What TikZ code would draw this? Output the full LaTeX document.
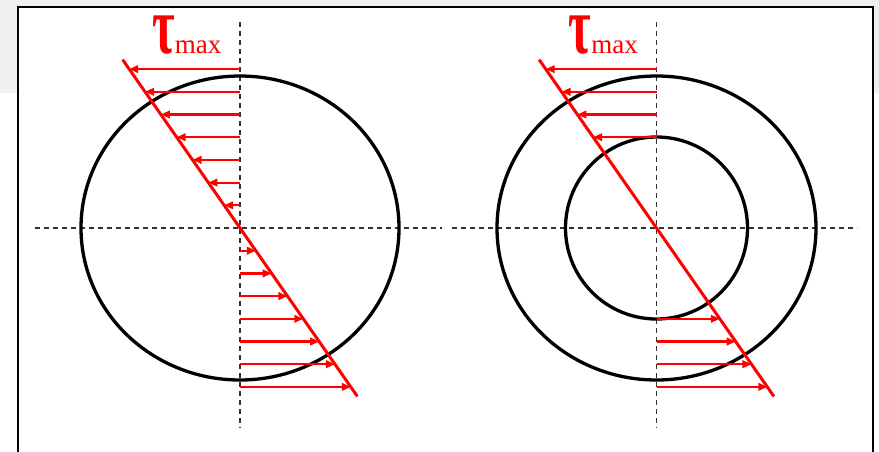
\documentclass[tikz,border=0pt]{standalone}
\usepackage{fontspec}
\setmainfont{Liberation Serif}
\usetikzlibrary{arrows.meta,positioning,calc}
\definecolor{bggray}{HTML}{F0EFF2}
\definecolor{axisgray}{HTML}{333333}
\tikzset{
  sect/.style={draw=black,line width=3.3pt},
  axis/.style={draw=axisgray,line width=1.7pt,dash pattern=on 5pt off 4pt},
  dist/.style={draw=red,line width=3pt},
  sarrow/.style={draw=red,line width=2.2pt,-{Triangle[length=9pt,width=7.5pt]}},
  tlabel/.style={text=red,inner sep=0pt,anchor=base west}
}
\newcommand{\taumax}{\scalebox{0.6}[1]{\fontsize{82}{82}\selectfont\bfseries τ}{\fontsize{27}{27}\selectfont max}}

\begin{document}
\begin{tikzpicture}[x=1pt,y=-1pt]
\useasboundingbox (0,0) rectangle (879,451);
\clip (0,0) rectangle (879,451);
\fill[bggray] (0,0) rectangle (879,93);
\draw[line width=2pt,fill=white] (17.5,7) rectangle (873,470);
\coordinate (OL) at (240,228);
\coordinate (OR) at (656.5,228);
% axes
\draw[axis] ($(OL)+(0,-206)$) -- ($(OL)+(0,200)$);
\draw[axis] ($(OL)+(-205,0)$) -- ($(OL)+(202,0)$);
\draw[axis] ($(OR)+(0,-206)$) -- ($(OR)+(0,200)$);
\draw[axis] ($(OR)+(-204.5,0)$) -- ($(OR)+(200.5,0)$);
% sections
\draw[sect] (OL) ellipse [x radius=159, y radius=152];
\draw[sect] (OR) ellipse [x radius=159.5, y radius=152];
\draw[sect] (OR) circle [radius=91];
% stress distribution
\draw[dist] ($(OL)+(-117.4,-168.4)$) -- ($(OL)+(117.4,168.4)$);
\draw[dist] ($(OR)+(-117.4,-168.4)$) -- ($(OR)+(117.4,168.4)$);
\foreach \k in {1,...,7}{
  \draw[sarrow] ($(OL)+(0,-22.7*\k)$) -- ($(OL)+(-15.83*\k,-22.7*\k)$);
  \draw[sarrow] ($(OL)+(0,22.7*\k)$) -- ($(OL)+(15.83*\k,22.7*\k)$);
}
\foreach \k in {4,...,7}{
  \draw[sarrow] ($(OR)+(0,-22.7*\k)$) -- ($(OR)+(-15.83*\k,-22.7*\k)$);
  \draw[sarrow] ($(OR)+(0,22.7*\k)$) -- ($(OR)+(15.83*\k,22.7*\k)$);
}
\node[tlabel] (tauL) at ($(OL)+(-88,-175)$) {\taumax};
\node[tlabel] (tauR) at ($(OR)+(-88,-175)$) {\taumax};
\end{tikzpicture}
\end{document}
